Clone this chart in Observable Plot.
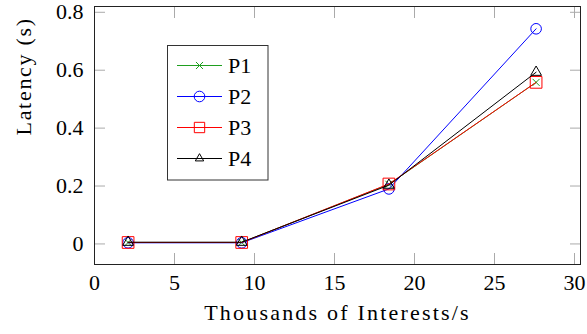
<!DOCTYPE html>
<html><head><meta charset="utf-8">
<script src="https://cdn.jsdelivr.net/npm/d3@7"></script>
<script src="https://cdn.jsdelivr.net/npm/@observablehq/plot@0.6"></script>
<style>
body{margin:0;background:#fff;}
#chart{position:relative;width:587px;height:334px;font-family:"Liberation Serif",serif;}
#legend{position:absolute;left:167px;top:45px;}
#legend text{font-family:"Liberation Serif",serif;}
</style></head><body><div id="chart"></div>
<script>
const throughput = [2.1, 9.2, 18.4, 27.6];
const seriesNames = ["P1", "P2", "P3", "P4"];
const p1 = [0.005, 0.005, 0.206, 0.558];
const p2 = [0.004, 0.004, 0.190, 0.743];
const p3 = [0.005, 0.005, 0.207, 0.558];
const p4 = [0.006, 0.006, 0.203, 0.593];
const xTicks = [0, 5, 10, 15, 20, 25, 30];
const yTicks = [0, 0.2, 0.4, 0.6, 0.8];
const yTickLabels = ["0", "0.2", "0.4", "0.6", "0.8"];
const xLabel = "Thousands of Interests/s";
const yLabel = "Latency (s)";

const colors = ["#1f9f1f", "#0000ff", "#ff0000", "#000000"];
const symbolNames = ["times", "circle", "square", "triangle"];
const symbolR = [3.3, 5.3, 6.6, 4];
const d3Symbols = [d3.symbolTimes, d3.symbolCircle, d3.symbolSquare2, d3.symbolTriangle2];

const series = [p1, p2, p3, p4].map((vals, i) => ({
  name: seriesNames[i],
  data: throughput.map((x, j) => ({x, y: vals[j]}))
}));

const FS = 22;
const marks = [];
series.forEach((s, i) => {
  marks.push(Plot.line(s.data, {x: "x", y: "y", stroke: colors[i], strokeWidth: 1}));
  marks.push(Plot.dot(s.data, {x: "x", y: "y", stroke: colors[i], symbol: symbolNames[i], r: symbolR[i], strokeWidth: 1, fill: "none"}));
});

const chart = Plot.plot({
  width: 587, height: 334,
  marginLeft: 94, marginRight: 7, marginTop: 6, marginBottom: 70,
  style: {fontFamily: '"Liberation Serif", serif', fontSize: FS + "px", background: "white"},
  x: {domain: [0, 30.375], label: null},
  y: {domain: [-0.071, 0.82], label: null},
  marks: [
    Plot.axisX(xTicks, {anchor: "bottom", tickSize: -11, stroke: "#aaa", tickFormat: () => "", label: null}),
    Plot.axisX(xTicks, {anchor: "top", tickSize: -11, stroke: "#aaa", tickFormat: () => "", label: null}),
    Plot.axisY(yTicks, {anchor: "left", tickSize: -11, stroke: "#aaa", tickFormat: () => "", label: null}),
    Plot.axisY(yTicks, {anchor: "right", tickSize: -11, stroke: "#aaa", tickFormat: () => "", label: null}),
    Plot.axisX(xTicks, {anchor: "bottom", tickSize: 0, tickPadding: 10, fontSize: FS, fill: "black", label: null}),
    Plot.axisY(yTicks, {anchor: "left", tickSize: 0, tickPadding: 11, fontSize: FS, fill: "black", label: null, tickFormat: (d) => yTickLabels[yTicks.indexOf(d)]}),
    ...marks,
    Plot.frame({stroke: "#222"}),
    Plot.text([xLabel], {text: d => d, frameAnchor: "bottom", dy: 55, fontSize: FS}),
    Plot.text([yLabel], {text: d => d, frameAnchor: "left", dx: -71, rotate: -90, fontSize: FS})
  ]
});
d3.select(chart).selectAll("text").each(function() {
  const t = this.textContent;
  if (t === xLabel) d3.select(this).style("letter-spacing", "2.2px");
  if (t === yLabel) d3.select(this).style("letter-spacing", "1.7px");
});
document.getElementById("chart").appendChild(chart);

// Legend
const leg = d3.select("#chart").append("svg").attr("id", "legend")
  .attr("width", 102).attr("height", 136);
leg.append("rect").attr("x", 0.5).attr("y", 0.5).attr("width", 100.5).attr("height", 134.5)
  .attr("fill", "white").attr("stroke", "#333");
series.forEach((s, i) => {
  const g = leg.append("g").attr("transform", `translate(0,${20.5 + i * 31})`);
  g.append("line").attr("x1", 10).attr("x2", 55).attr("y1", 0).attr("y2", 0)
    .attr("stroke", colors[i]).attr("stroke-width", 1);
  g.append("path").attr("transform", "translate(32.5,0)")
    .attr("d", d3.symbol(d3Symbols[i], Math.PI * symbolR[i] * symbolR[i])())
    .attr("fill", "none").attr("stroke", colors[i]).attr("stroke-width", 1);
  g.append("text").attr("x", 61).attr("y", 7.5)
    .attr("font-family", "Liberation Serif, serif").attr("font-size", FS).text(s.name);
});
</script>
</body></html>
